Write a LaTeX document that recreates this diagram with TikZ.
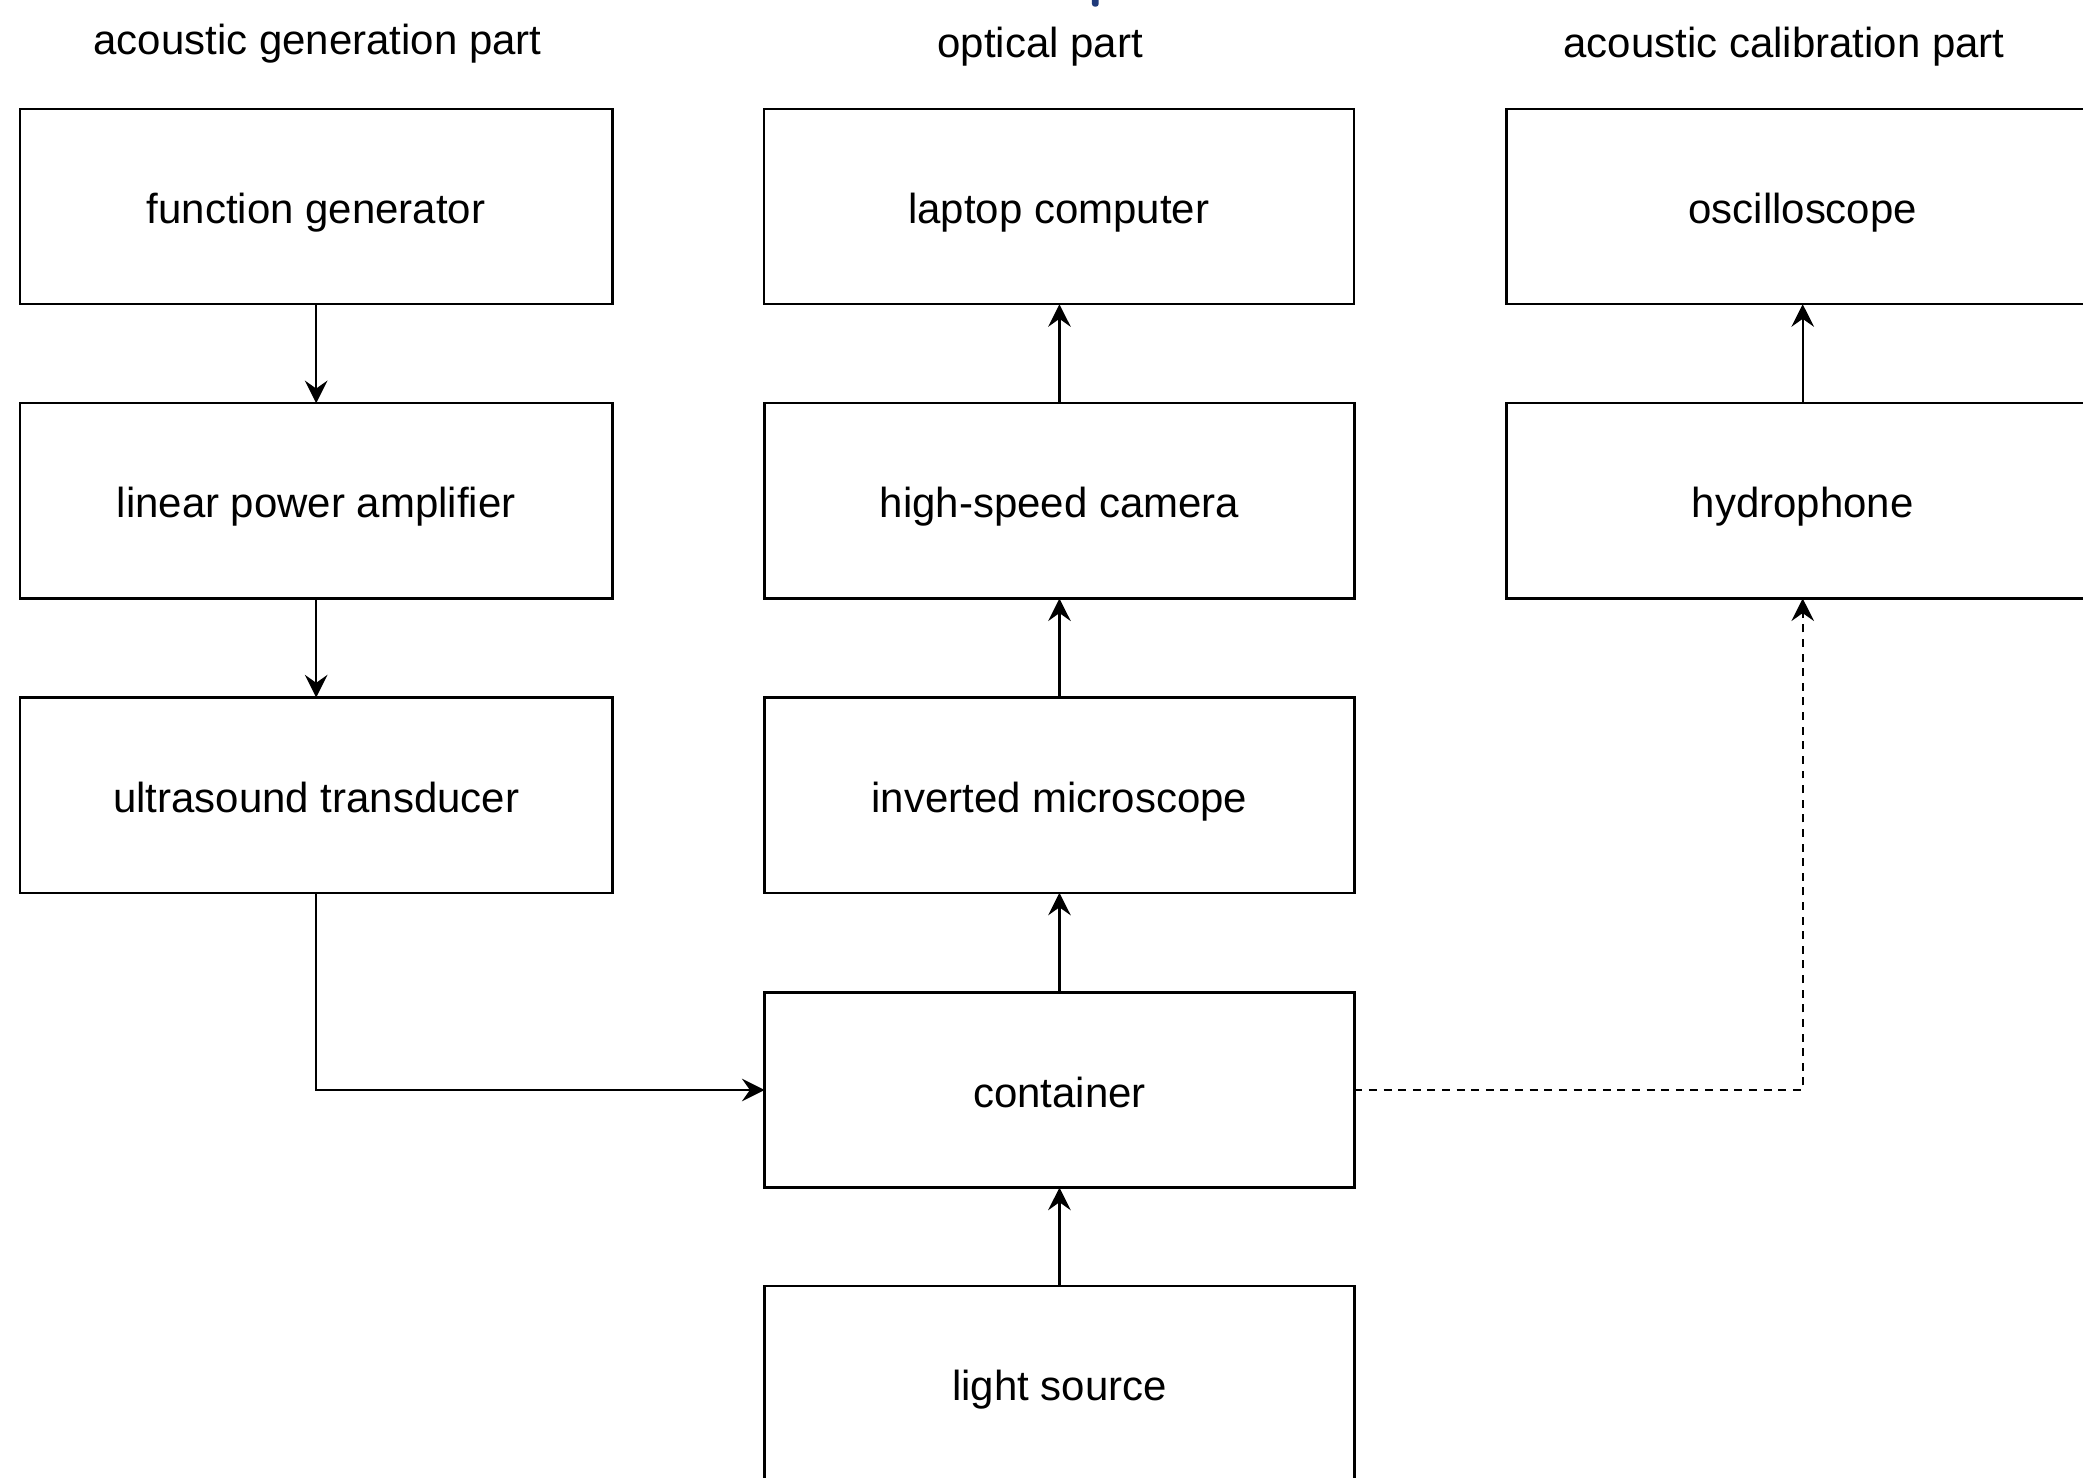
\documentclass[tikz,border=0pt]{standalone}
\usepackage{fontspec}
\setmainfont{Liberation Sans}
\usetikzlibrary{arrows.meta}
\definecolor{markblue}{HTML}{1F3A7A}
\tikzset{
  box/.style={draw, line width=0.9pt, inner sep=0pt, outer sep=0pt, minimum height=73.5pt, text height=15pt, text depth=2.1pt, font=\fontsize{15.8pt}{18pt}\selectfont},
  colA/.style={box, minimum width=223pt},
  colB/.style={box, minimum width=222pt},
  colC/.style={box, minimum width=223pt},
  title/.style={font=\fontsize{15.8pt}{18pt}\selectfont, inner sep=0pt},
  conn/.style={line width=0.8pt, -{Stealth[length=8.5pt,width=8.5pt,inset=3pt]}},
  dconn/.style={conn, dash pattern=on 3pt off 2.5pt}
}
\begin{document}
\begin{tikzpicture}[x=0.5pt,y=-0.5pt]
\useasboundingbox (0,0) rectangle (1568,1112);
\clip (0,0) rectangle (1568,1112);
\fill[markblue, rounded corners=1pt] (822,-5) rectangle (827,5);
% titles
\node[title] (t1) at (239,33) {acoustic generation part};
\node[title] (t2) at (783,35) {optical part};
\node[title] (t3) at (1343,35) {acoustic calibration part};
% column 1
\node[colA] (fg) at (238,155.5) {function generator};
\node[colA] (lpa) at (238,377) {linear power amplifier};
\node[colA] (ut) at (238,598.5) {ultrasound transducer};
% column 2
\node[colB] (lc) at (797,155.5) {laptop computer};
\node[colB] (hs) at (797.5,377) {high-speed camera};
\node[colB] (im) at (797.5,598.5) {inverted microscope};
\node[colB] (ct) at (797.5,820.5) {container};
\node[colB] (ls) at (797.5,1041.5) {light source};
% column 3
\node[colC] (os) at (1357,155.5) {oscilloscope};
\node[colC] (hp) at (1357,377) {hydrophone};
% connectors
\draw[conn] (fg.south) -- (lpa.north);
\draw[conn] (lpa.south) -- (ut.north);
\draw[conn] (ut.south) -- (ut.south |- ct.west) -- (ct.west);
\draw[conn] (ls.north) -- (ct.south);
\draw[conn] (ct.north) -- (im.south);
\draw[conn] (im.north) -- (hs.south);
\draw[conn] (hs.north) -- (hs.north |- lc.south);
\draw[conn] (hp.north) -- (os.south);
\draw[dconn] (ct.east) -- (ct.east -| hp.south) -- (hp.south);
\end{tikzpicture}
\end{document}
